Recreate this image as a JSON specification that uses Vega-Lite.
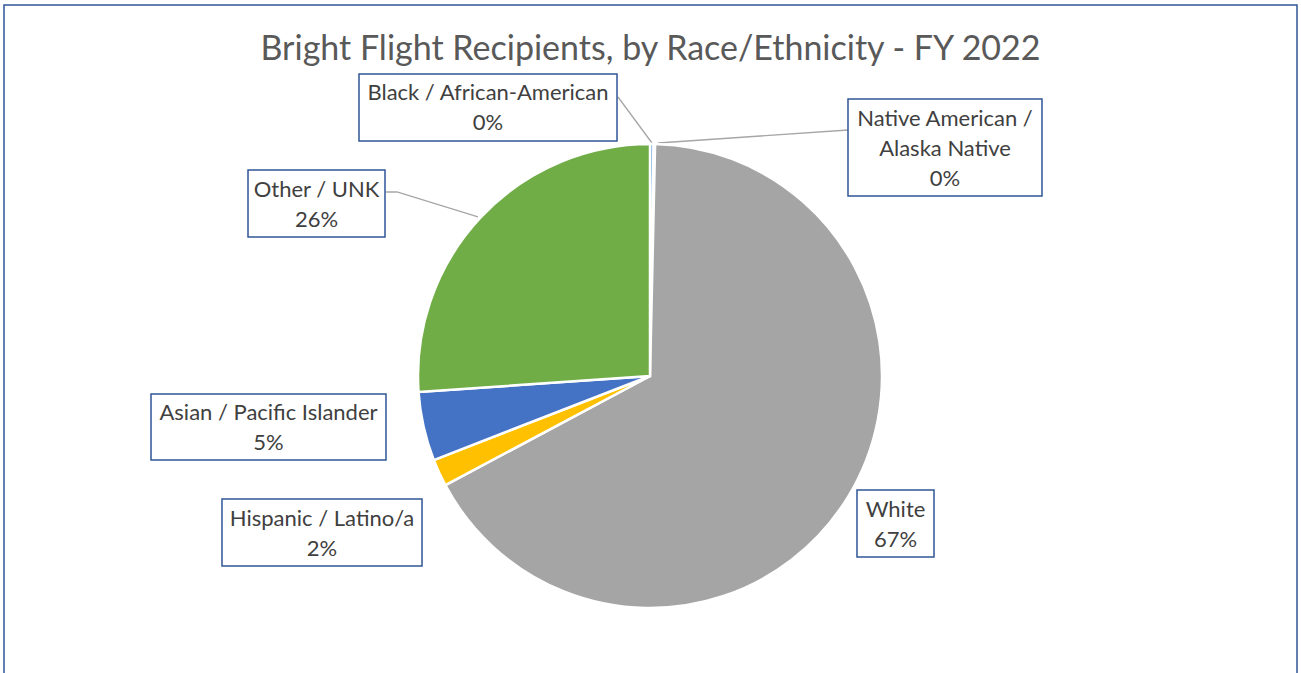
{
  "$schema": "https://vega.github.io/schema/vega-lite/v6.json",
  "width": 1301,
  "height": 673,
  "autosize": {"type": "none"},
  "padding": 0,
  "background": "white",
  "config": {"view": {"stroke": null}},
  "title": {
    "text": "Bright Flight Recipients, by Race/Ethnicity - FY 2022",
    "font": "Lato",
    "fontSize": 34,
    "fontWeight": "normal",
    "color": "#595959",
    "anchor": "middle",
    "baseline": "alphabetic",
    "offset": -94,
    "frame": "group"
  },
  "datasets": {
    "slices": [
      {"name": "Black / African-American", "idx": 1, "value": 0.25},
      {"name": "Native American / Alaska Native", "idx": 2, "value": 0.1},
      {"name": "White", "idx": 3, "value": 66.85},
      {"name": "Hispanic / Latino/a", "idx": 4, "value": 1.9},
      {"name": "Asian / Pacific Islander", "idx": 5, "value": 4.8},
      {"name": "Other / UNK", "idx": 6, "value": 26.1}
    ],
    "labels": [
      {"name": "Black / African-American", "label": "Black / African-American\n0%", "tx": -69.68, "ty": 121.59, "bx1": -125.16, "bx2": -14.19, "by1": 129.89, "by2": 101.08},
      {"name": "Native American / Alaska Native", "label": "Native American /\nAlaska Native\n0%", "tx": 126.88, "ty": 110.54, "bx1": 85.16, "bx2": 168.6, "by1": 119.14, "by2": 77.42},
      {"name": "Other / UNK", "label": "Other / UNK\n26%", "tx": -143.44, "ty": 80.0, "bx1": -172.9, "bx2": -113.98, "by1": 88.6, "by2": 59.78},
      {"name": "Asian / Pacific Islander", "label": "Asian / Pacific Islander\n5%", "tx": -164.09, "ty": -15.91, "bx1": -214.62, "bx2": -113.55, "by1": -7.74, "by2": -36.13},
      {"name": "Hispanic / Latino/a", "label": "Hispanic / Latino/a\n2%", "tx": -141.08, "ty": -61.51, "bx1": -184.09, "bx2": -98.06, "by1": -52.9, "by2": -81.72},
      {"name": "White", "label": "White\n67%", "tx": 105.59, "ty": -57.63, "bx1": 89.03, "bx2": 122.15, "by1": -49.03, "by2": -77.85}
    ],
    "leaders": [
      {"name": "Black / African-American", "idx": 1, "x": -13.76, "y": 120.0},
      {"name": "Black / African-American", "idx": 2, "x": 0.86, "y": 100.22},
      {"name": "Native American / Alaska Native", "idx": 1, "x": 3.44, "y": 100.22},
      {"name": "Native American / Alaska Native", "idx": 2, "x": 85.16, "y": 105.8},
      {"name": "Other / UNK", "idx": 1, "x": -113.55, "y": 79.14},
      {"name": "Other / UNK", "idx": 2, "x": -108.82, "y": 79.14},
      {"name": "Other / UNK", "idx": 3, "x": -73.98, "y": 68.39}
    ]
  },
  "layer": [
    {
      "data": {"values": [{}]},
      "mark": {"type": "rect", "filled": false, "stroke": "#2F5597", "strokeWidth": 1.5},
      "encoding": {
        "x": {"datum": -277.85, "type": "quantitative", "scale": {"domain": [-279.57, 280.0], "nice": false, "zero": false}, "axis": null},
        "x2": {"datum": 278.28},
        "y": {"datum": 159.57, "type": "quantitative", "scale": {"domain": [-127.74, 161.72], "nice": false, "zero": false}, "axis": null},
        "y2": {"datum": -135.0}
      }
    },
    {
      "data": {"name": "leaders"},
      "mark": {"type": "line", "color": "#A6A6A6", "strokeWidth": 1.3},
      "encoding": {
        "x": {"field": "x", "type": "quantitative"},
        "y": {"field": "y", "type": "quantitative"},
        "detail": {"field": "name"},
        "order": {"field": "idx"}
      }
    },
    {
      "data": {"name": "slices"},
      "mark": {"type": "arc", "outerRadius": 232, "stroke": "white", "strokeWidth": 2.5},
      "encoding": {
        "x": {"datum": 0, "type": "quantitative"},
        "y": {"datum": 0, "type": "quantitative"},
        "theta": {"field": "value", "type": "quantitative", "stack": true},
        "order": {"field": "idx"},
        "color": {
          "field": "name",
          "type": "nominal",
          "scale": {
            "domain": ["Black / African-American", "Native American / Alaska Native", "White", "Hispanic / Latino/a", "Asian / Pacific Islander", "Other / UNK"],
            "range": ["#5B9BD5", "#ED7D31", "#A5A5A5", "#FFC000", "#4472C4", "#70AD47"]
          },
          "legend": null
        }
      }
    },
    {
      "data": {"name": "labels"},
      "mark": {"type": "rect", "fill": "white", "stroke": "#2F5597", "strokeWidth": 1.5},
      "encoding": {
        "x": {"field": "bx1", "type": "quantitative"},
        "x2": {"field": "bx2"},
        "y": {"field": "by1", "type": "quantitative"},
        "y2": {"field": "by2"}
      }
    },
    {
      "data": {"name": "labels"},
      "mark": {"type": "text", "font": "Lato", "fontSize": 22, "color": "#404040", "align": "center", "baseline": "middle", "lineBreak": "\n", "lineHeight": 30},
      "encoding": {
        "x": {"field": "tx", "type": "quantitative"},
        "y": {"field": "ty", "type": "quantitative"},
        "text": {"field": "label"}
      }
    }
  ]
}
